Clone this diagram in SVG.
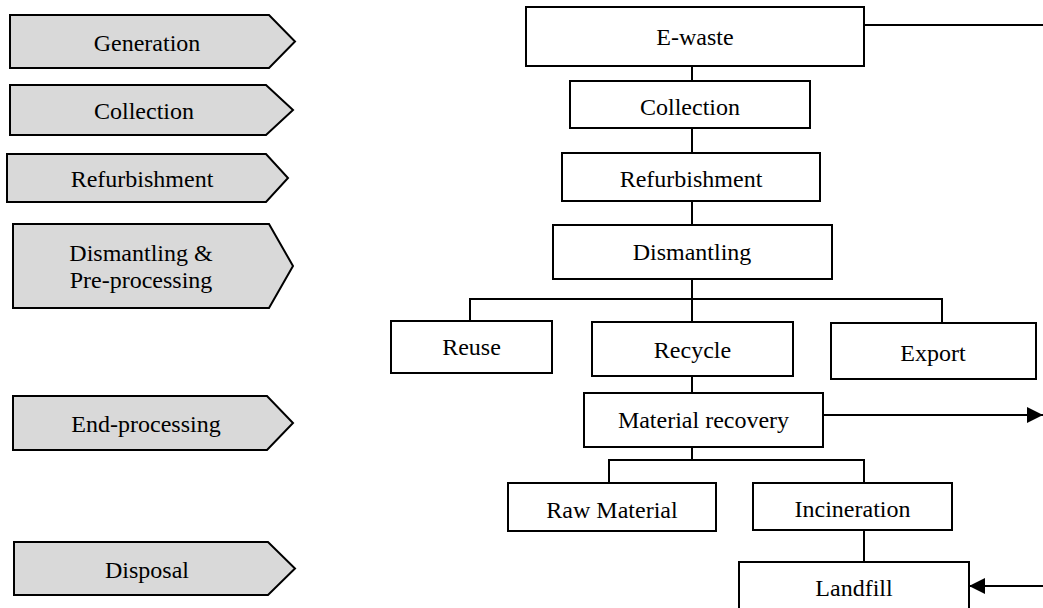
<svg xmlns="http://www.w3.org/2000/svg" width="1043" height="608" viewBox="0 0 1043 608">
<style>
.stage{fill:#d9d9d9;stroke:#000;stroke-width:2}
.box{fill:#fff;stroke:#000;stroke-width:2}
.lbl{font-family:"Liberation Serif","Times New Roman",serif;font-size:24px;fill:#000;text-anchor:middle}
.con{fill:none;stroke:#000;stroke-width:2}
</style>
<defs>
<marker id="ah" markerWidth="16" markerHeight="16" refX="16" refY="8" orient="auto" markerUnits="userSpaceOnUse">
<path d="M0,0 L16,8 L0,16 z" fill="#000"/>
</marker>
</defs>
<rect width="1043" height="608" fill="#fff"/>
<g id="stage-generation"><polygon class="stage" points="10,15 269,15 295,41.5 269,68 10,68"/><text class="lbl" x="147" y="51">Generation</text></g>
<g id="stage-collection"><polygon class="stage" points="10,85 266,85 293,110 266,135 10,135"/><text class="lbl" x="144" y="119">Collection</text></g>
<g id="stage-refurbishment"><polygon class="stage" points="7,154 266,154 288,178 266,202 7,202"/><text class="lbl" x="142" y="187">Refurbishment</text></g>
<g id="stage-dismantling"><polygon class="stage" points="13,224 269,224 293,266 269,308 13,308"/><text class="lbl" x="141" y="261">Dismantling &amp;</text><text class="lbl" x="141" y="288">Pre-processing</text></g>
<g id="stage-end"><polygon class="stage" points="13,396 267,396 293,423 267,450 13,450"/><text class="lbl" x="146" y="432">End-processing</text></g>
<g id="stage-disposal"><polygon class="stage" points="14,542 268,542 295,568.5 268,595 14,595"/><text class="lbl" x="147" y="578">Disposal</text></g>

<g id="connectors">
<path class="con" d="M692,66 V81 M692,128 V153 M692,201 V225 M692,279 V299 M470,321 V299 H942 V323 M692,299 V322 M692,376 V393 M692,447 V460 M609,483 V460 H864 V483 M864,530 V562"/>
<path class="con" d="M823,415 H1043" marker-end="url(#ah)"/>
<path class="con" d="M864,25 H1046 V586 H969" marker-end="url(#ah)"/>
</g>

<g id="n-ewaste"><rect class="box" x="526" y="7" width="338" height="59"/><text class="lbl" x="695" y="45">E-waste</text></g>
<g id="n-collection"><rect class="box" x="570" y="81" width="240" height="47"/><text class="lbl" x="690" y="115">Collection</text></g>
<g id="n-refurbishment"><rect class="box" x="562" y="153" width="258" height="48"/><text class="lbl" x="691" y="187">Refurbishment</text></g>
<g id="n-dismantling"><rect class="box" x="553" y="225" width="279" height="54"/><text class="lbl" x="692" y="260">Dismantling</text></g>
<g id="n-reuse"><rect class="box" x="391" y="321" width="161" height="52"/><text class="lbl" x="471.5" y="355">Reuse</text></g>
<g id="n-recycle"><rect class="box" x="592" y="322" width="201" height="54"/><text class="lbl" x="692.5" y="358">Recycle</text></g>
<g id="n-export"><rect class="box" x="831" y="323" width="205" height="56"/><text class="lbl" x="933" y="361">Export</text></g>
<g id="n-material"><rect class="box" x="584" y="393" width="239" height="54"/><text class="lbl" x="703.5" y="428">Material recovery</text></g>
<g id="n-raw"><rect class="box" x="508" y="483" width="208" height="48"/><text class="lbl" x="612" y="518">Raw Material</text></g>
<g id="n-incineration"><rect class="box" x="753" y="483" width="199" height="47"/><text class="lbl" x="852.5" y="517">Incineration</text></g>
<g id="n-landfill"><rect class="box" x="739" y="562" width="230" height="60"/><text class="lbl" x="854" y="596">Landfill</text></g>
</svg>
